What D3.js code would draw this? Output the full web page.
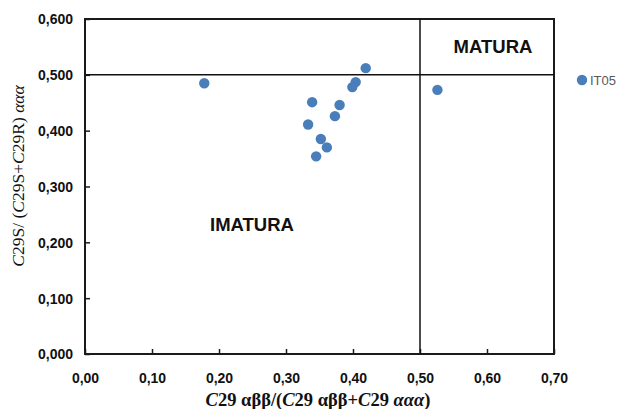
<!DOCTYPE html>
<html>
<head>
<meta charset="utf-8">
<script src="https://cdn.jsdelivr.net/npm/d3@7"></script>
<style>
  html, body { margin: 0; padding: 0; background: #fff; }
  svg { display: block; }
</style>
</head>
<body>
<svg id="chart" width="622" height="409"></svg>
<script>
// Sample ratios: C29 αββ/(αββ+ααα) vs C29 S/(S+R) ααα
const sampleX = [0.178, 0.339, 0.333, 0.345, 0.352, 0.361, 0.373, 0.380, 0.399, 0.404, 0.419, 0.526];
const sampleY = [0.485, 0.451, 0.411, 0.354, 0.385, 0.370, 0.426, 0.446, 0.478, 0.487, 0.512, 0.473];
const xTicks = [0, 0.1, 0.2, 0.3, 0.4, 0.5, 0.6, 0.7];
const yTicks = [0, 0.1, 0.2, 0.3, 0.4, 0.5, 0.6];
const xThreshold = 0.5;
const yThreshold = 0.5;
const seriesName = "IT05";

const svg = d3.select("#chart");
const x = d3.scaleLinear().domain([0, 0.7]).range([85, 554]);
const y = d3.scaleLinear().domain([0, 0.6]).range([354, 19]);
const fmtX = v => d3.format(".2f")(v).replace(".", ",");
const fmtY = v => d3.format(".3f")(v).replace(".", ",");
const blue = "#4a7ebb";

// frame
svg.append("rect")
  .attr("x", x(0)).attr("y", y(0.6))
  .attr("width", x(0.7) - x(0)).attr("height", y(0) - y(0.6))
  .attr("fill", "none").attr("stroke", "#1a1a1a").attr("stroke-width", 2);

// axes with inward ticks
const xAxis = svg.append("g").attr("transform", `translate(0,${y(0)})`)
  .call(d3.axisTop(x).tickValues(xTicks).tickFormat(fmtX).tickSize(5));
const yAxis = svg.append("g").attr("transform", `translate(${x(0)},0)`)
  .call(d3.axisRight(y).tickValues(yTicks).tickFormat(fmtY).tickSize(5));
[xAxis, yAxis].forEach(g => {
  g.select(".domain").remove();
  g.selectAll("line").attr("stroke", "#1a1a1a").attr("stroke-width", 1.5);
  g.selectAll("text")
    .attr("fill", "#111")
    .style("font-family", "'Liberation Sans', Arial, sans-serif")
    .style("font-weight", "bold")
    .style("font-size", "14px");
});
yAxis.selectAll("text").attr("text-anchor", "end").attr("x", -12).attr("dy", "0.35em");
xAxis.selectAll("text").attr("y", 24).attr("dy", "0.35em");

// threshold lines
svg.append("line")
  .attr("x1", x(0)).attr("x2", x(0.7))
  .attr("y1", y(yThreshold)).attr("y2", y(yThreshold))
  .attr("stroke", "#111").attr("stroke-width", 1.5);
svg.append("line")
  .attr("x1", x(xThreshold)).attr("x2", x(xThreshold))
  .attr("y1", y(0)).attr("y2", y(0.6))
  .attr("stroke", "#111").attr("stroke-width", 1.5);

// region labels
const regionFont = "'Liberation Sans', Arial, sans-serif";
svg.append("text").attr("x", 252).attr("y", 225).attr("dy", "0.35em")
  .attr("text-anchor", "middle").style("font-family", regionFont)
  .style("font-weight", "bold").style("font-size", "18.5px").attr("fill", "#111")
  .text("IMATURA");
svg.append("text").attr("x", 493).attr("y", 47).attr("dy", "0.35em")
  .attr("text-anchor", "middle").style("font-family", regionFont)
  .style("font-weight", "bold").style("font-size", "18.5px").attr("fill", "#111")
  .text("MATURA");

// points
svg.append("g").selectAll("circle")
  .data(sampleX.map((v, i) => [v, sampleY[i]]))
  .join("circle")
  .attr("cx", d => x(d[0])).attr("cy", d => y(d[1]))
  .attr("r", 5.2).attr("fill", blue);

// legend
const leg = svg.append("g").attr("transform", "translate(582,80)");
leg.append("circle").attr("r", 5.2).attr("fill", blue);
leg.append("text").attr("x", 8).attr("dy", "0.36em")
  .style("font-family", "'Liberation Sans', Arial, sans-serif")
  .style("font-size", "13px").attr("fill", "#595959").text(seriesName);

// axis titles
const serif = "'Liberation Serif', 'Times New Roman', serif";
const xt = svg.append("text").attr("x", 318).attr("y", 406)
  .attr("text-anchor", "middle").style("font-family", serif)
  .style("font-weight", "bold").style("font-size", "18.5px").attr("fill", "#111");
[["C", true], ["29 αββ/(", false], ["C", true], ["29 αββ+", false], ["C", true], ["29 ", false], ["ααα", true], [")", false]]
  .forEach(([t, it]) => xt.append("tspan").style("font-style", it ? "italic" : "normal").text(t));

const yt = svg.append("text")
  .attr("transform", "translate(24,176) rotate(-90)")
  .attr("text-anchor", "middle").style("font-family", serif)
  .style("font-size", "17.5px").attr("fill", "#111");
[["C", true], ["29S/ (", false], ["C", true], ["29S+", false], ["C", true], ["29R) ", false], ["ααα", true]]
  .forEach(([t, it]) => yt.append("tspan").style("font-style", it ? "italic" : "normal").text(t));
</script>
</body>
</html>
